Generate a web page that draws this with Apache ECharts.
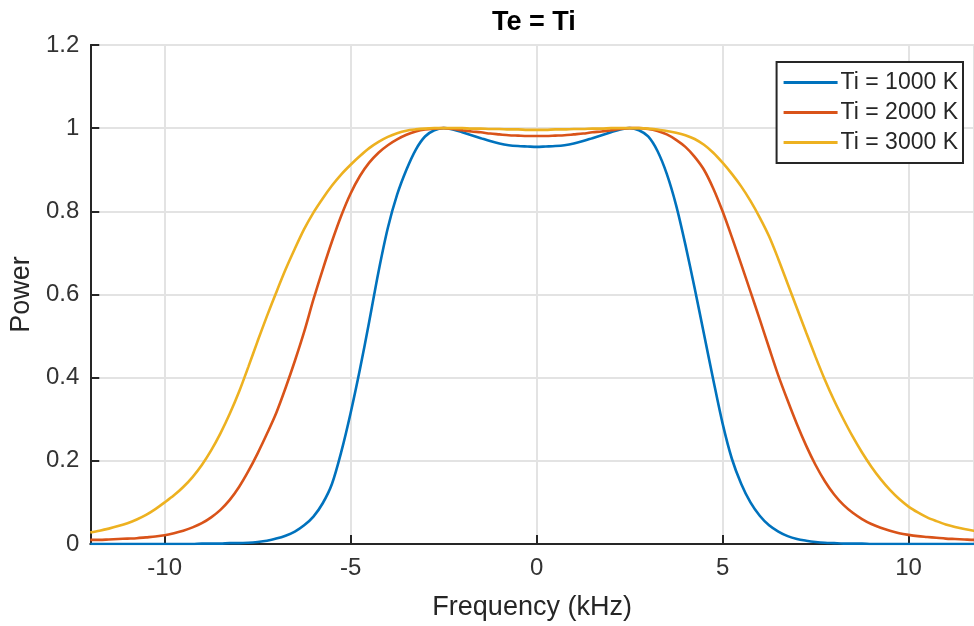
<!DOCTYPE html>
<html>
<head>
<meta charset="utf-8">
<script src="https://cdn.jsdelivr.net/npm/echarts@6/dist/echarts.min.js"></script>
<style>
html,body{margin:0;padding:0;background:#fff;}
#chart{width:974px;height:626px;}
</style>
</head>
<body>
<div id="chart"></div>
<script>
var freq = [-12,-11.75,-11.5,-11.25,-11,-10.75,-10.5,-10.25,-10,-9.75,-9.5,-9.25,-9,-8.75,-8.5,-8.25,-8,-7.75,-7.5,-7.25,
            -7,-6.75,-6.5,-6.25,-6,-5.75,-5.5,-5.25,-5,-4.75,-4.5,-4.25,-4,-3.75,-3.5,-3.25,-3,-2.75,-2.5,-2.25,
            -2,-1.75,-1.5,-1.25,-1,-0.75,-0.5,-0.25,0,
            0.25,0.5,0.75,1,1.25,1.5,1.75,2,2.25,2.5,2.75,3,3.25,3.5,3.75,4,4.25,4.5,4.75,5,
            5.25,5.5,5.75,6,6.25,6.5,6.75,7,7.25,7.5,7.75,8,8.25,8.5,8.75,9,9.25,9.5,9.75,10,
            10.25,10.5,10.75,11,11.25,11.5,11.75,12];
var ti1000 = [0,0,0,0,0,0,0,0,0,0,0,0,0.001,0.001,0.001,0.002,0.002,0.003,0.005,0.008,
              0.013,0.02,0.03,0.045,0.066,0.098,0.145,0.222,0.315,0.42,0.535,0.655,0.76,0.84,0.9,0.948,0.98,0.995,1.0,0.997,
              0.99,0.983,0.976,0.969,0.963,0.959,0.957,0.956,0.955,
              0.956,0.957,0.959,0.963,0.969,0.976,0.983,0.99,0.997,1.0,0.995,0.98,0.945,0.89,0.815,0.72,0.615,0.505,0.395,0.29,
              0.205,0.145,0.1,0.068,0.045,0.03,0.019,0.012,0.008,0.005,0.003,0.002,0.001,0.001,0.001,0,0,0,0,0,
              0,0,0,0,0,0,0,0];
var ti2000 = [0.01,0.01,0.011,0.012,0.013,0.014,0.016,0.018,0.021,0.026,0.032,0.04,0.05,0.064,0.082,0.106,0.137,0.175,0.218,0.265,
              0.315,0.375,0.44,0.51,0.588,0.66,0.728,0.79,0.843,0.885,0.917,0.941,0.959,0.973,0.984,0.992,0.997,0.999,1.0,0.998,
              0.995,0.992,0.99,0.987,0.985,0.983,0.982,0.981,0.981,
              0.981,0.982,0.983,0.985,0.987,0.99,0.992,0.995,0.998,1.0,1.0,0.998,0.993,0.985,0.972,0.955,0.931,0.9,0.855,0.8,
              0.738,0.673,0.607,0.54,0.472,0.405,0.345,0.288,0.236,0.19,0.151,0.119,0.094,0.075,0.06,0.048,0.039,0.032,0.026,0.022,
              0.019,0.017,0.015,0.013,0.012,0.011,0.01,0.01];
var ti3000 = [0.028,0.032,0.037,0.043,0.05,0.059,0.07,0.084,0.1,0.117,0.137,0.161,0.19,0.225,0.266,0.313,0.366,0.426,0.488,0.548,
              0.605,0.66,0.71,0.757,0.797,0.831,0.862,0.889,0.912,0.933,0.952,0.967,0.979,0.988,0.994,0.997,0.999,1.0,1.0,1.0,
              1.0,0.999,0.999,0.998,0.998,0.997,0.997,0.996,0.996,
              0.996,0.997,0.997,0.998,0.998,0.999,0.999,1.0,1.0,1.0,1.0,0.999,0.997,0.993,0.989,0.983,0.974,0.96,0.941,0.917,
              0.89,0.86,0.825,0.785,0.74,0.685,0.626,0.567,0.508,0.45,0.395,0.345,0.3,0.258,0.22,0.186,0.156,0.13,0.108,0.09,
              0.076,0.064,0.055,0.047,0.041,0.036,0.032,0.03];
var seriesNames = ['Ti = 1000 K','Ti = 2000 K','Ti = 3000 K'];
var seriesColors = ['#0072BD','#D95319','#EDB120'];

function pairs(ys){ return freq.map(function(x,i){ return [x, ys[i]]; }); }
var allData = [ti1000, ti2000, ti3000];

var chart = echarts.init(document.getElementById('chart'), null, {renderer:'canvas'});
var FONT = 'Liberation Sans, Arial, Helvetica, sans-serif';
chart.setOption({
  animation:false,
  backgroundColor:'#ffffff',
  title:{
    text:'Te = Ti', left:487, top:4,
    textStyle:{fontFamily:FONT, fontSize:27, fontWeight:'bold', color:'#000'}
  },
  legend:{
    orient:'vertical', right:11, top:62,
    padding:[9,5,9,7],
    backgroundColor:'#fff', borderColor:'#262626', borderWidth:2,
    itemWidth:54, itemHeight:3, itemGap:7,
    icon:'rect',
    textStyle:{fontFamily:FONT, fontSize:23, lineHeight:22, color:'#262626', padding:[0,0,0,-2]},
    data:seriesNames
  },
  grid:{left:90, right:0, top:45, bottom:78, containLabel:false},
  xAxis:{
    type:'value', min:-12, max:11.76, splitNumber:5,
    name:'Frequency (kHz)', nameLocation:'middle', nameGap:50,
    nameTextStyle:{fontFamily:FONT, fontSize:27, color:'#262626'},
    axisLine:{show:true, onZero:false, lineStyle:{color:'#262626', width:2}},
    axisTick:{show:true, inside:true, length:9, lineStyle:{color:'#262626', width:2}},
    axisLabel:{showMinLabel:false, showMaxLabel:false, fontFamily:FONT, fontSize:24, color:'#333', margin:12},
    splitLine:{show:true, lineStyle:{color:'#e3e3e3', width:2}}
  },
  yAxis:{
    type:'value', min:0, max:1.2, interval:0.2,
    name:'Power', nameLocation:'middle', nameGap:54, nameRotate:90,
    nameTextStyle:{fontFamily:FONT, fontSize:27, color:'#262626'},
    axisLine:{show:true, onZero:false, lineStyle:{color:'#262626', width:2}},
    axisTick:{show:true, inside:true, length:9, lineStyle:{color:'#262626', width:2}},
    axisLabel:{fontFamily:FONT, fontSize:24, color:'#333', margin:11},
    splitLine:{show:true, lineStyle:{color:'#e3e3e3', width:2}}
  },
  series: allData.map(function(ys, k){
    return {
      name:seriesNames[k], type:'line', data:pairs(ys),
      smooth:0.3, symbol:'none', showSymbol:false,
      color:seriesColors[k],
      lineStyle:{color:seriesColors[k], width:2.6}
    };
  })
});
</script>
</body>
</html>
